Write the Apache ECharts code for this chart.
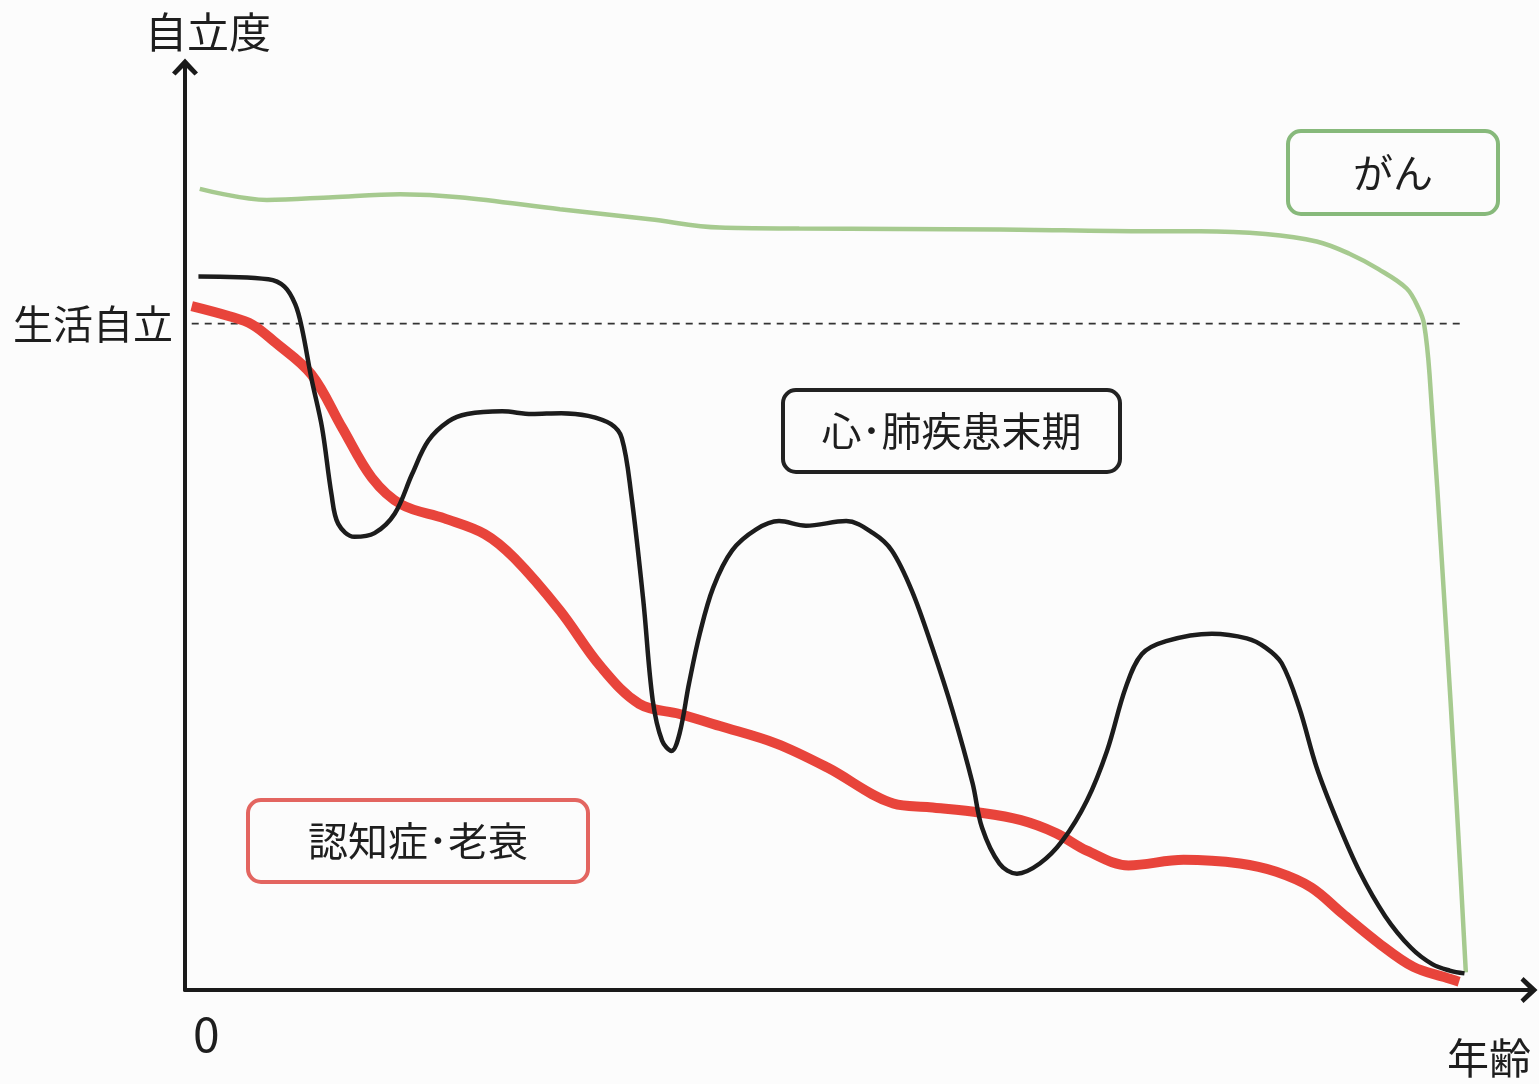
<!DOCTYPE html>
<html>
<head>
<meta charset="utf-8">
<title>自立度と年齢</title>
<script src="https://cdn.jsdelivr.net/npm/echarts@6/dist/echarts.min.js"></script>
<style>
  html, body { margin: 0; padding: 0; background: #fcfcfc; }
  #chart { width: 1539px; height: 1084px; }
</style>
</head>
<body>
<div id="chart"></div>
<script>
  // x: 年齢 (0-100 scale), y: 自立度 (0-100 scale)
  const cancerPts = [
    [1.1, 86.8], [6.1, 85.6], [11.0, 85.9], [16.0, 86.2], [20.4, 85.9], [27.9, 84.6],
    [34.6, 83.5], [39.8, 82.6], [45.7, 82.5], [60.6, 82.4], [71.7, 82.2], [75.5, 82.2],
    [80.4, 81.9], [84.2, 81.1], [86.6, 79.8], [88.8, 78.1], [90.9, 76.0], [91.8, 73.8],
    [92.2, 72.1], [92.6, 66.7], [93.7, 42.2], [94.6, 20.5], [95.3, 1.9]
  ];

  const organPts = [
    [1.0, 77.3], [6.2, 77.0], [7.4, 76.2], [8.2, 74.3], [8.7, 71.7], [9.4, 66.3],
    [10.2, 60.9], [10.9, 53.7], [11.4, 50.5], [12.6, 49.1], [14.1, 49.5], [15.6, 51.6],
    [16.9, 55.9], [18.1, 59.5], [19.6, 61.6], [21.0, 62.4], [23.6, 62.7], [25.8, 62.4],
    [28.0, 62.5], [30.0, 62.2], [31.7, 61.3], [32.5, 59.8], [33.2, 53.7], [34.1, 42.2],
    [34.8, 31.4], [35.5, 27.0], [36.2, 25.9], [36.8, 27.8], [37.5, 33.2], [38.3, 38.6],
    [39.3, 43.6], [40.7, 47.6], [42.5, 49.9], [44.2, 50.8], [46.2, 50.3], [49.2, 50.8],
    [51.2, 49.5], [52.6, 47.6], [54.1, 43.2], [55.6, 37.1], [57.1, 30.3], [58.6, 22.4],
    [59.3, 17.6], [60.6, 13.7], [61.9, 12.6], [63.6, 13.7], [65.3, 16.2], [67.1, 20.5],
    [68.6, 25.9], [70.0, 32.8], [71.2, 36.4], [73.0, 37.8], [76.4, 38.6], [79.0, 38.1],
    [80.4, 37.1], [81.6, 35.4], [82.9, 30.6], [84.2, 24.1], [85.7, 18.4], [87.4, 12.8],
    [89.3, 8.0], [91.2, 4.6], [92.8, 2.8], [94.1, 2.1], [95.2, 1.8]
  ];

  const frailPts = [
    [0.5, 74.1], [3.3, 73.0], [5.0, 72.1], [6.6, 70.3], [9.4, 66.7], [11.7, 60.9],
    [13.9, 55.5], [16.1, 52.6], [19.3, 51.1], [22.3, 49.4], [24.5, 46.8], [27.9, 41.1],
    [30.9, 35.1], [33.8, 31.0], [36.8, 29.9], [39.8, 28.6], [44.0, 26.7], [47.8, 24.1],
    [52.7, 20.2], [55.4, 19.8], [59.2, 19.2], [62.2, 18.4], [64.8, 17.0], [67.1, 15.1],
    [70.2, 13.5], [74.3, 14.1], [78.5, 13.7], [81.2, 12.8], [83.8, 11.1], [86.1, 8.3],
    [88.8, 5.1], [91.4, 2.5], [93.7, 1.4], [94.8, 0.9]
  ];

  // 生活自立 threshold
  const selfLevel = 72.2;
  const selfLineX = [0.5, 95.2];

  const seriesNames = ['がん', '心･肺疾患末期', '認知症･老衰'];

  const font = '"Noto Sans CJK JP", "Noto Sans", sans-serif';
  const chevron = 'path://M0,14 L13,0 L26,14 L22.5,17 L13,7.5 L3.5,17 Z';

  const chart = echarts.init(document.getElementById('chart'));

  const option = {
    backgroundColor: '#fcfcfc',
    animation: false,
    grid: { left: 185, right: 10, top: 67, bottom: 94, containLabel: false },
    xAxis: {
      type: 'value',
      min: 0,
      max: 100,
      name: '年齢',
      nameLocation: 'end',
      nameGap: 2,
      nameTextStyle: {
        fontFamily: font, fontSize: 42, color: '#1e1e1e',
        align: 'right', verticalAlign: 'top', padding: [47, 0, 0, 0]
      },
      axisLine: {
        lineStyle: { color: '#1a1a1a', width: 4 },
        symbol: ['none', chevron],
        symbolSize: [26, 17]
      },
      axisTick: { show: false },
      splitLine: { show: false },
      axisLabel: {
        customValues: [0],
        formatter: v => (v === 0 ? '0' : ''),
        fontFamily: font, fontSize: 48, color: '#1e1e1e',
        margin: 20, align: 'left', padding: [0, 0, 0, 8]
      }
    },
    yAxis: {
      type: 'value',
      min: 0,
      max: 100,
      name: '自立度',
      nameLocation: 'end',
      nameGap: 14,
      nameTextStyle: {
        fontFamily: font, fontSize: 42, color: '#1e1e1e',
        padding: [0, 0, 0, 46]
      },
      axisLine: {
        lineStyle: { color: '#1a1a1a', width: 4 },
        symbol: ['none', chevron],
        symbolSize: [26, 17]
      },
      axisTick: { show: false },
      splitLine: { show: false },
      axisLabel: {
        customValues: [selfLevel],
        formatter: v => (Math.abs(v - selfLevel) < 0.01 ? '生活自立' : ''),
        fontFamily: font, fontSize: 40, color: '#1e1e1e',
        margin: 12, padding: [0, 0, 8, 0]
      }
    },
    series: [
      {
        name: 'selfLine',
        type: 'line',
        data: selfLineX.map(x => [x, selfLevel]),
        symbol: 'none',
        lineStyle: { color: '#333', width: 1.6, type: [7, 6] },
        z: 1
      },
      {
        name: seriesNames[0],
        type: 'line',
        data: cancerPts,
        smooth: 0.35,
        symbol: 'none',
        lineStyle: { color: '#a6ca8f', width: 4.5 },
        z: 2
      },
      {
        name: seriesNames[2],
        type: 'line',
        data: frailPts,
        smooth: 0.35,
        symbol: 'none',
        lineStyle: { color: '#e8443b', width: 10 },
        z: 3
      },
      {
        name: seriesNames[1],
        type: 'line',
        data: organPts,
        smooth: 0.35,
        symbol: 'none',
        lineStyle: { color: '#1c1c1c', width: 4.5 },
        z: 4
      }
    ],
    graphic: [
      { box: [1288, 131, 210, 83], color: '#87b97b', text: seriesNames[0] },
      { box: [783, 390, 337, 82], color: '#222222', text: seriesNames[1] },
      { box: [248, 800, 340, 82], color: '#e36560', text: seriesNames[2] }
    ].map(b => ({
      type: 'group',
      children: [
        {
          type: 'rect',
          shape: { x: b.box[0], y: b.box[1], width: b.box[2], height: b.box[3], r: 13 },
          style: { fill: 'none', stroke: b.color, lineWidth: 4 }
        },
        {
          type: 'text',
          x: b.box[0] + b.box[2] / 2,
          y: b.box[1] + b.box[3] / 2,
          style: {
            text: b.text, fontFamily: font, fontSize: 40, fill: '#1e1e1e',
            align: 'center', verticalAlign: 'middle'
          }
        }
      ]
    }))
  };

  chart.setOption(option);
</script>
</body>
</html>
